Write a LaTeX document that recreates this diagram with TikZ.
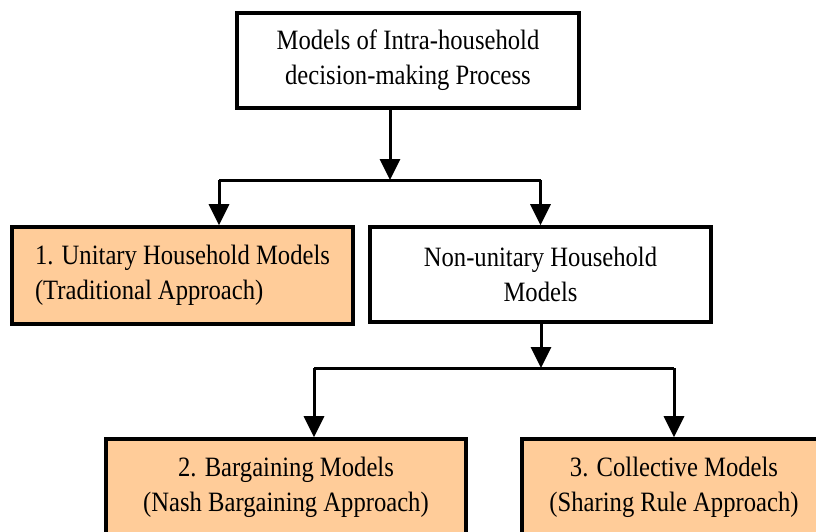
\documentclass[tikz,border=0pt]{standalone}
\usepackage{fontspec}
\setmainfont[FakeStretch=0.88]{Liberation Serif}
\usetikzlibrary{arrows.meta}
\definecolor{peach}{RGB}{255,204,153}

\begin{document}
\begin{tikzpicture}[x=1pt,y=-1pt,
				model box/.style={rectangle,draw,line width=3.6pt,inner sep=0pt,
					font=\fontsize{28}{35}\selectfont,align=center},
				main node/.style={model box,fill=peach},
				flow/.style={line width=3pt,-{Triangle[width=20pt,length=21pt]}}]
				\clip (0,0) rectangle (816,531);
				
				\node[model box,minimum width=342pt,minimum height=95pt] (top) at (408,60.5)
					{Models of Intra-household\\decision-making Process};
				\node[main node,minimum width=341pt,minimum height=97pt,align=left] (unitary) at (182.5,275.5)
					{1. Unitary Household Models\\(Traditional Approach)};
				\node[model box,minimum width=341pt,minimum height=95pt] (nonunitary) at (540.5,274.5)
					{Non-unitary Household\\Models};
				\node[main node,minimum width=360pt,minimum height=97pt] (bargaining) at (286,487.5)
					{2. Bargaining Models\\(Nash Bargaining Approach)};
				\node[main node,minimum width=304pt,minimum height=97pt] (collective) at (674,487.5)
					{3. Collective Models\\(Sharing Rule Approach)};
				
				% branch points
				\coordinate (J1) at (390,180);
				\coordinate (J1L) at (219,180);
				\coordinate (J2) at (541,368);
				\coordinate (J2L) at (314,368);
				\coordinate (J2R) at (674,368);
				
				\draw[flow] (top.south -| J1) -- (J1);
				\draw[line width=3pt] (J1L) -- (J1L -| nonunitary.north);
				\draw[flow] (J1L) -- (J1L |- unitary.north);
				\draw[flow] (J1L -| nonunitary.north) -- (nonunitary.north);
				
				\draw[flow] (nonunitary.south -| J2) -- (J2);
				\draw[line width=3pt] (J2L) -- (J2R);
				\draw[flow] (J2L) -- (J2L |- bargaining.north);
				\draw[flow] (J2R) -- (collective.north);
			\end{tikzpicture}
\end{document}
